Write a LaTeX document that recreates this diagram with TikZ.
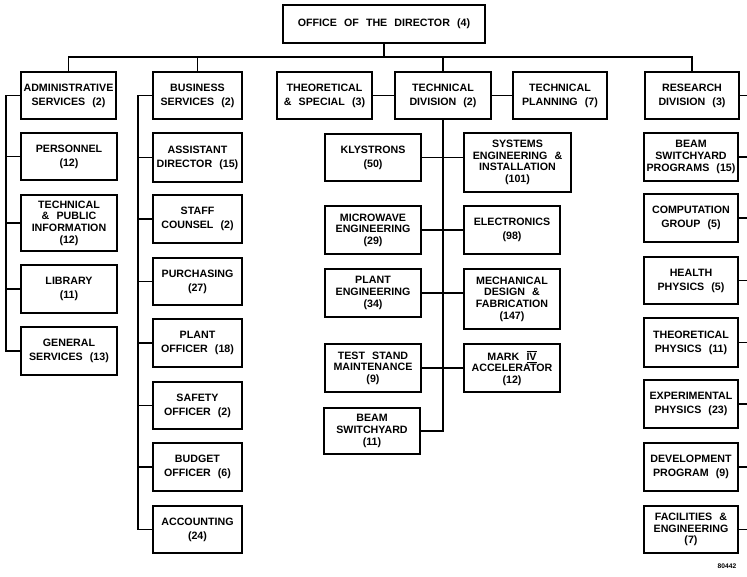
\documentclass[tikz,border=0pt]{standalone}
\usepackage{fontspec}
\setmainfont[WordSpace=2.4]{Liberation Sans}
\tikzset{
  org/.style={draw, line width=1.3pt, inner sep=1pt, align=center,
    font=\fontsize{8}{10.5}\selectfont\bfseries},
  orgtight/.style={org, font=\fontsize{8}{8.7}\selectfont\bfseries},
  sz/.style 2 args={minimum width=#1*0.75pt, minimum height=#2*0.75pt},
  link/.style={line width=0.9pt},
}
\begin{document}
\begin{tikzpicture}[x=0.75pt, y=-0.75pt]
    \useasboundingbox (0,0) rectangle (747,576);
    % top row
    \node[org, sz={202}{38}] (dir)    at (384, 24)   {OFFICE OF THE DIRECTOR (4)};
    \node[org, sz={95}{47}]  (admin)  at (68.5, 95.5) {ADMINISTRATIVE\\SERVICES (2)};
    \node[org, sz={89}{47}]  (busi)   at (197.5, 95.5) {BUSINESS\\SERVICES (2)};
    \node[org, sz={95}{47}]  (theo)   at (324.5, 95.5) {THEORETICAL\\\& SPECIAL (3)};
    \node[org, sz={96}{47}]  (tech)   at (443, 95.5) {TECHNICAL\\DIVISION (2)};
    \node[org, sz={94}{47}]  (tplan)  at (560, 95.5) {TECHNICAL\\PLANNING (7)};
    \node[org, sz={94}{47}]  (res)    at (692, 95.5) {RESEARCH\\DIVISION (3)};
    % administrative services
    \node[org, sz={96}{47}]      (pers) at (69, 156.5) {PERSONNEL\\(12)};
    \node[orgtight, sz={96}{56}] (tpi)  at (69, 223)   {TECHNICAL\\\& PUBLIC\\INFORMATION\\(12)};
    \node[org, sz={96}{48}]      (lib)  at (69, 289)   {LIBRARY\\(11)};
    \node[org, sz={96}{48}]      (gen)  at (69, 351)   {GENERAL\\SERVICES (13)};
    % business services
    \node[org, sz={89}{49}] (asst)   at (197.5, 157.5) {ASSISTANT\\DIRECTOR (15)};
    \node[org, sz={89}{48}] (staff)  at (197.5, 219)   {STAFF\\COUNSEL (2)};
    \node[org, sz={89}{47}] (purch)  at (197.5, 281.5) {PURCHASING\\(27)};
    \node[org, sz={89}{48}] (plant)  at (197.5, 343)   {PLANT\\OFFICER (18)};
    \node[org, sz={89}{47}] (safety) at (197.5, 405.5) {SAFETY\\OFFICER (2)};
    \node[org, sz={89}{48}] (budget) at (197.5, 467)   {BUDGET\\OFFICER (6)};
    \node[org, sz={89}{47}] (acct)   at (197.5, 529.5) {ACCOUNTING\\(24)};
    % technical division, left
    \node[org, sz={96}{47}]      (kly)   at (373, 157.5) {KLYSTRONS\\(50)};
    \node[orgtight, sz={96}{48}] (micro) at (373, 230)   {MICROWAVE\\ENGINEERING\\(29)};
    \node[orgtight, sz={96}{48}] (pleng) at (373, 293)   {PLANT\\ENGINEERING\\(34)};
    \node[orgtight, sz={96}{48}] (tsm)   at (373, 368)   {TEST STAND\\MAINTENANCE\\(9)};
    \node[orgtight, sz={96}{46}] (bsw)   at (372, 431)   {BEAM\\SWITCHYARD\\(11)};
    % technical division, right
    \node[orgtight, sz={107}{59}] (sys)  at (517.5, 162.5) {SYSTEMS\\ENGINEERING \&\\INSTALLATION\\(101)};
    \node[org, sz={96}{48}]       (elec) at (512, 230)     {ELECTRONICS\\(98)};
    \node[orgtight, sz={96}{60}]  (mech) at (512, 299)     {MECHANICAL\\DESIGN \&\\FABRICATION\\(147)};
    \node[orgtight, sz={96}{48}]  (mark) at (512, 368)     {MARK \(\underline{\overline{\mbox{IV}}}\)\\ACCELERATOR\\(12)};
    % research division
    \node[orgtight, sz={94}{48}] (bsp)    at (691, 157)   {BEAM\\SWITCHYARD\\PROGRAMS (15)};
    \node[org, sz={94}{48}]      (comp)   at (691, 218)   {COMPUTATION\\GROUP (5)};
    \node[org, sz={94}{47}]      (health) at (691, 280.5) {HEALTH\\PHYSICS (5)};
    \node[org, sz={94}{49}]      (tphys)  at (691, 342.5) {THEORETICAL\\PHYSICS (11)};
    \node[org, sz={94}{48}]      (exp)    at (691, 404)   {EXPERIMENTAL\\PHYSICS (23)};
    \node[org, sz={94}{48}]      (dev)    at (691, 467)   {DEVELOPMENT\\PROGRAM (9)};
    \node[orgtight, sz={94}{47}] (fac)    at (691, 529.5) {FACILITIES \&\\ENGINEERING\\(7)};
    \node[font=\fontsize{5}{5}\selectfont\bfseries] (num) at (727, 566) {80442};
    % bus lines
    \coordinate (top)  at (384, 57);
    \coordinate (abus) at (6, 0);
    \coordinate (bbus) at (138, 0);
    \coordinate (rbus) at (749, 0);
    \draw[link] (dir) -- (top);
    \draw[link] (admin.north) |- (top) -| (res.north);
    \draw[link] (busi.north) -- (busi.north |- top);
    \draw[link] (tech.north) -- (tech.north |- top);
    \draw[link] (theo) -- (tech) -- (tplan);
    % administrative
    \draw[link] (admin.west) -| (abus |- gen.west) -- (gen.west);
    \foreach \n in {pers, tpi, lib}
      \draw[link] (\n.west) -- (\n.west -| abus);
    % business
    \draw[link] (busi.west) -| (bbus |- acct.west) -- (acct.west);
    \foreach \n in {asst, staff, purch, plant, safety, budget}
      \draw[link] (\n.west) -- (\n.west -| bbus);
    % technical
    \draw[link] (tech.south) |- (bsw.east);
    \draw[link] (kly.east) -- (kly.east -| sys.west);
    \draw[link] (micro.east) -- (elec.west);
    \draw[link] (pleng.east) -- (pleng.east -| mech.west);
    \draw[link] (tsm.east) -- (mark.west);
    % research
    \foreach \n in {res, bsp, comp, health, tphys, exp, dev, fac}
      \draw[link] (\n.east) -- (\n.east -| rbus);
\end{tikzpicture}
\end{document}
